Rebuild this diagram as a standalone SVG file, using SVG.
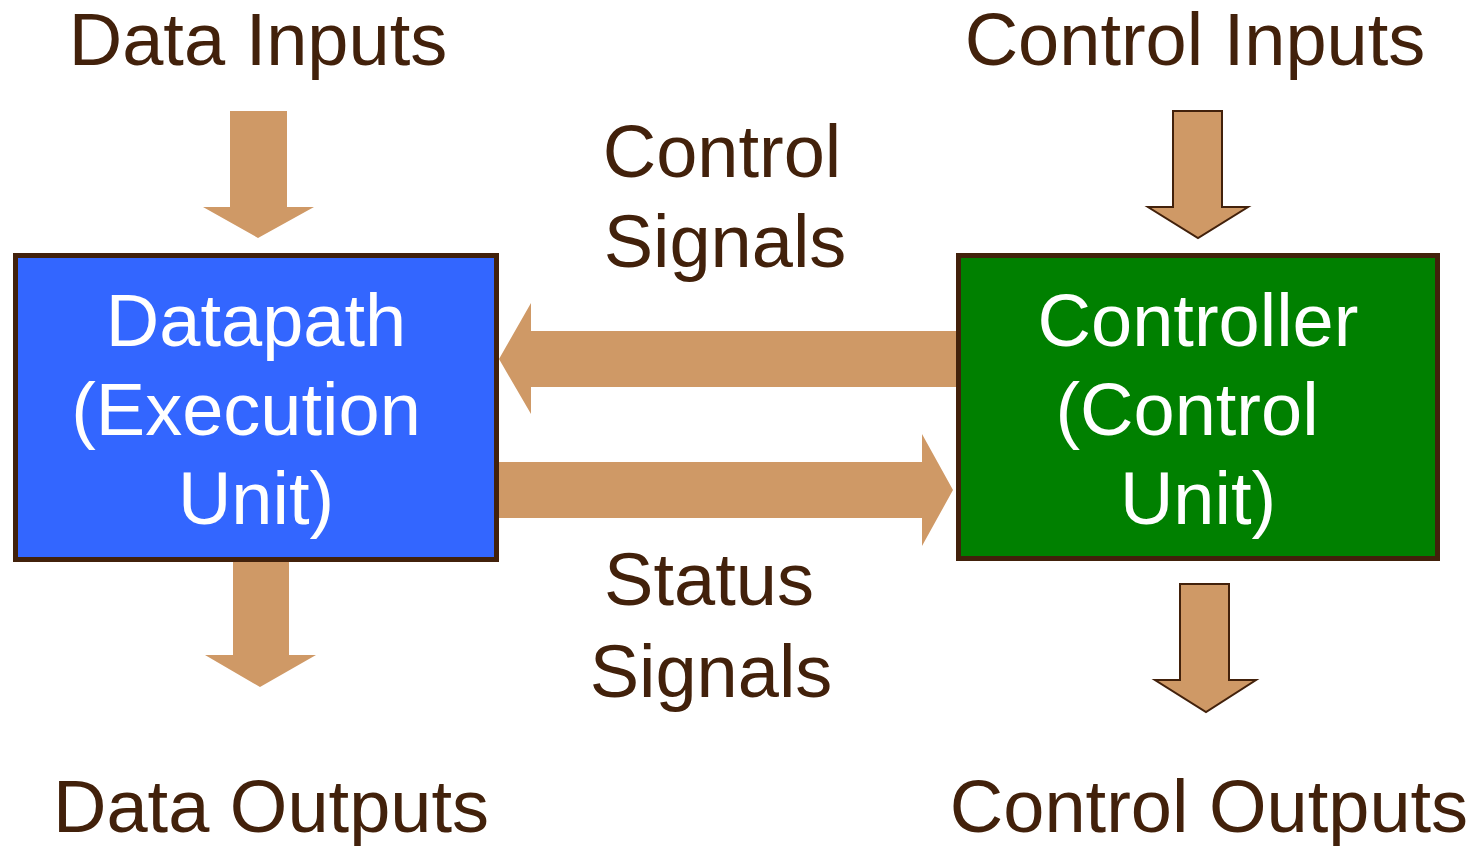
<svg xmlns="http://www.w3.org/2000/svg" width="1475" height="846" viewBox="0 0 1475 846">
  <style>
    .lbl { font-family: "Liberation Sans", Arial, sans-serif; font-size: 74px; fill: #42210b; text-anchor: middle; }
    .in { font-family: "Liberation Sans", Arial, sans-serif; font-size: 74px; fill: #ffffff; text-anchor: middle; }
    .box { stroke: #42210b; stroke-width: 5; }
    .flow { fill: #cf9966; stroke: none; }
    .flow-o { fill: #cf9966; stroke: #42210b; stroke-width: 2; stroke-linejoin: miter; }
  </style>
  <rect width="1475" height="846" fill="#ffffff"/>

  <!-- connectors -->
  <g id="connectors">
    <!-- data inputs into datapath -->
    <polygon class="flow" points="230,111 287,111 287,207 314,207 258,238 203,207 230,207"/>
    <!-- datapath to data outputs -->
    <polygon class="flow" points="233,559 289,559 289,655 316,655 260,687 205,655 233,655"/>
    <!-- control inputs into controller -->
    <polygon class="flow-o" points="1173,111 1222,111 1222,207 1248,207 1198,238 1148,207 1173,207"/>
    <!-- controller to control outputs -->
    <polygon class="flow-o" points="1180,584 1229,584 1229,680 1256,680 1206,712 1155,680 1180,680"/>
    <!-- control signals: controller to datapath -->
    <polygon class="flow" points="956,331 956,387 531,387 531,414 499,359 531,303 531,331"/>
    <!-- status signals: datapath to controller -->
    <polygon class="flow" points="498,462 922,462 922,434 953,490 922,546 922,518 498,518"/>
  </g>

  <g id="datapath">
    <rect class="box" x="15.5" y="255.5" width="481" height="304" fill="#3366ff"/>
    <text class="in" x="256" y="346">Datapath</text>
    <text class="in" x="246" y="435">(Execution</text>
    <text class="in" x="256" y="524">Unit)</text>
  </g>

  <g id="controller">
    <rect class="box" x="958.5" y="255.5" width="479" height="303" fill="#008000"/>
    <text class="in" x="1198" y="346">Controller</text>
    <text class="in" x="1187" y="435">(Control</text>
    <text class="in" x="1198" y="524">Unit)</text>
  </g>

  <g id="labels">
    <text class="lbl" x="258" y="65">Data Inputs</text>
    <text class="lbl" x="1195" y="65">Control Inputs</text>
    <text class="lbl" x="722" y="177">Control</text>
    <text class="lbl" x="725" y="267">Signals</text>
    <text class="lbl" x="709" y="605">Status</text>
    <text class="lbl" x="711" y="697">Signals</text>
    <text class="lbl" x="271" y="832">Data Outputs</text>
    <text class="lbl" x="1209" y="832">Control Outputs</text>
  </g>
</svg>
